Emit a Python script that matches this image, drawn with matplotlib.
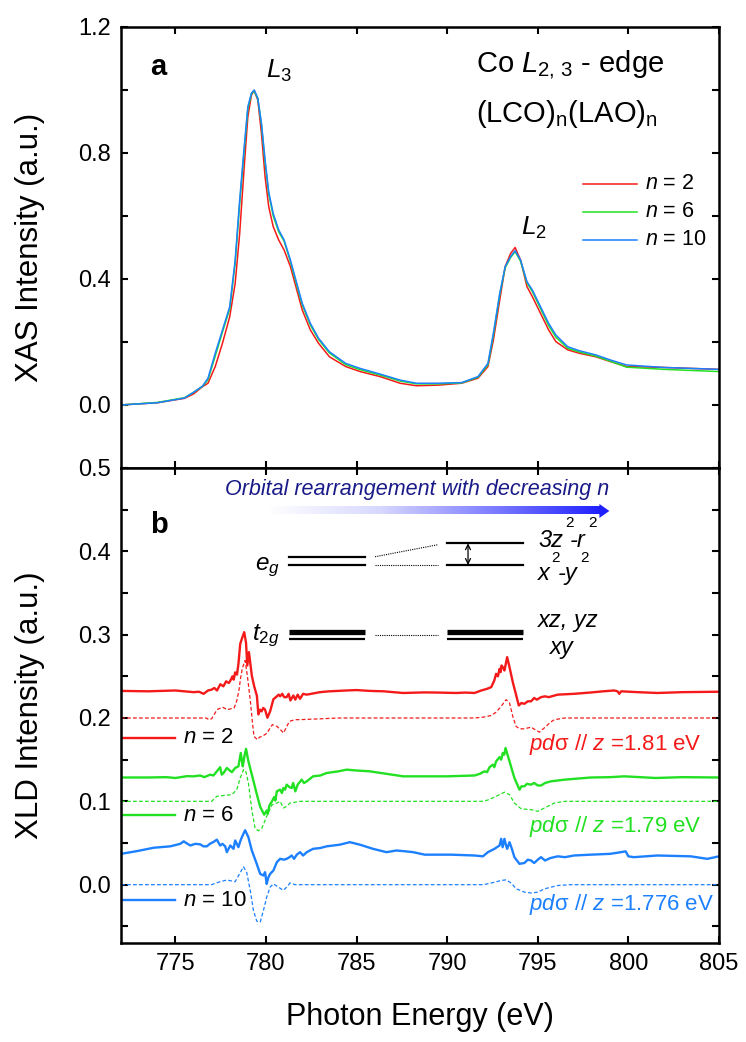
import matplotlib
matplotlib.use("Agg")
import matplotlib.pyplot as plt
import numpy as np
from matplotlib.patches import Polygon
from matplotlib.colors import LinearSegmentedColormap
from matplotlib.ticker import MultipleLocator, FormatStrFormatter

plt.rcParams["font.family"] = ["Liberation Sans", "DejaVu Sans"]
plt.rcParams["mathtext.fontset"] = "custom"
plt.rcParams["mathtext.rm"] = "Liberation Sans"
plt.rcParams["mathtext.it"] = "Liberation Sans:italic"
plt.rcParams["mathtext.bf"] = "Liberation Sans:bold"

# ---------------- data ----------------
# Co L2,3-edge XAS, common energy grid (eV)
xas_energy = [772.0, 774.0, 775.5, 776.0, 776.5, 776.8, 777.2, 777.6, 778.0, 778.3,
              778.55, 778.8, 779.0, 779.2, 779.35, 779.55, 779.75, 779.95, 780.15, 780.4,
              780.7, 781.0, 781.35, 781.7, 782.0, 782.45, 782.9, 783.5, 784.4, 785.2,
              786.3, 787.4, 788.3, 789.5, 790.8, 791.7, 792.25, 792.55, 792.9, 793.2,
              793.5, 793.75, 794.05, 794.4, 794.7, 795.15, 795.6, 796.0, 796.65, 797.3,
              798.2, 799.0, 799.9, 802.0, 805.0]
xas_n2 = [0.0, 0.007, 0.021, 0.035, 0.058, 0.069, 0.122, 0.196, 0.28, 0.386,
          0.545, 0.757, 0.915, 0.984, 0.998, 0.968, 0.862, 0.725, 0.63, 0.566,
          0.524, 0.492, 0.439, 0.365, 0.302, 0.238, 0.196, 0.153, 0.122, 0.106,
          0.09, 0.069, 0.061, 0.063, 0.069, 0.085, 0.122, 0.206, 0.333, 0.439,
          0.481, 0.5, 0.46, 0.376, 0.344, 0.291, 0.238, 0.201, 0.175, 0.164,
          0.153, 0.138, 0.122, 0.119, 0.113]
xas_n6 = [0.0, 0.008, 0.023, 0.04, 0.059, 0.08, 0.155, 0.232, 0.305, 0.45,
          0.64, 0.81, 0.94, 0.988, 0.997, 0.972, 0.89, 0.77, 0.67, 0.6,
          0.55, 0.52, 0.455, 0.38, 0.318, 0.254, 0.208, 0.165, 0.128, 0.112,
          0.095, 0.076, 0.067, 0.067, 0.07, 0.088, 0.128, 0.222, 0.35, 0.436,
          0.468, 0.487, 0.456, 0.388, 0.36, 0.306, 0.252, 0.215, 0.18, 0.168,
          0.155, 0.139, 0.12, 0.113, 0.106]
xas_n10 = [0.0, 0.007, 0.022, 0.04, 0.06, 0.085, 0.164, 0.238, 0.312, 0.46,
           0.651, 0.82, 0.947, 0.99, 1.0, 0.974, 0.894, 0.778, 0.677, 0.608,
           0.556, 0.524, 0.46, 0.386, 0.323, 0.259, 0.212, 0.169, 0.132, 0.116,
           0.098, 0.079, 0.069, 0.069, 0.071, 0.09, 0.132, 0.228, 0.354, 0.439,
           0.471, 0.49, 0.46, 0.392, 0.365, 0.312, 0.259, 0.222, 0.185, 0.172,
           0.159, 0.143, 0.127, 0.119, 0.113]

# measured XLD, (energy, intensity) pairs
xld_n2 = [(772.0, 0.0325), (773.5, 0.032), (775.0, 0.033), (776.0, 0.031), (776.3, 0.0315),
          (776.56, 0.029), (776.8, 0.033), (777.0, 0.034), (777.15, 0.036), (777.3, 0.033),
          (777.48, 0.0405), (777.65, 0.038), (777.8, 0.044), (777.95, 0.042), (778.03, 0.0446),
          (778.15, 0.05), (778.22, 0.046), (778.3, 0.0547), (778.4, 0.052), (778.48, 0.0648),
          (778.58, 0.089), (778.7, 0.097), (778.8, 0.103), (778.9, 0.090), (778.97, 0.063),
          (779.06, 0.079), (779.22, 0.0507), (779.35, 0.038), (779.5, 0.0265), (779.58, 0.0043),
          (779.68, 0.01), (779.76, 0.008), (779.85, 0.012), (779.95, 0.010), (780.08, 0.0003),
          (780.23, 0.008), (780.41, 0.0225), (780.55, 0.025), (780.7, 0.028), (780.78, 0.026),
          (780.9, 0.029), (781.0, 0.025), (781.14, 0.025), (781.25, 0.029), (781.35, 0.021),
          (781.51, 0.027), (781.62, 0.022), (781.75, 0.028), (781.88, 0.023), (782.05, 0.029),
          (782.24, 0.028), (782.5, 0.029), (782.98, 0.031), (783.5, 0.032), (784.44, 0.033),
          (785.0, 0.0335), (785.73, 0.0325), (786.5, 0.032), (787.56, 0.030), (788.75, 0.0307),
          (789.5, 0.0305), (790.5, 0.030), (791.0, 0.0305), (791.51, 0.030), (791.88, 0.033),
          (792.2, 0.035), (792.43, 0.037), (792.6, 0.045), (792.7, 0.053), (792.8, 0.050),
          (792.89, 0.059), (792.95, 0.055), (793.0, 0.063), (793.1, 0.060), (793.16, 0.057),
          (793.31, 0.073), (793.44, 0.061), (793.62, 0.043), (793.8, 0.028), (793.95, 0.015),
          (794.1, 0.018), (794.26, 0.017), (794.45, 0.020), (794.63, 0.020), (794.8, 0.024),
          (794.95, 0.022), (795.18, 0.025), (795.4, 0.026), (795.6, 0.025), (796.1, 0.028),
          (797.0, 0.029), (797.93, 0.0306), (798.6, 0.032), (799.22, 0.033), (799.4, 0.032),
          (799.5, 0.029), (799.6, 0.032), (800.5, 0.031), (801.6, 0.030), (803.0, 0.031),
          (805.0, 0.0315)]
xld_n6 = [(772.0, 0.0286), (773.5, 0.0286), (774.5, 0.029), (775.0, 0.028), (775.64, 0.0302),
          (776.0, 0.030), (776.37, 0.031), (776.6, 0.029), (776.92, 0.032), (777.1, 0.031),
          (777.29, 0.036), (777.47, 0.041), (777.56, 0.032), (777.66, 0.034), (777.84, 0.040),
          (778.0, 0.037), (778.12, 0.035), (778.3, 0.040), (778.48, 0.042), (778.61, 0.058),
          (778.68, 0.048), (778.72, 0.042), (778.82, 0.055), (778.9, 0.063), (779.03, 0.048),
          (779.22, 0.032), (779.5, 0.008), (779.68, -0.0065), (779.9, -0.016), (780.04, -0.011),
          (780.1, -0.015), (780.19, -0.005), (780.32, -0.0005), (780.45, 0.005), (780.52, 0.001),
          (780.6, 0.012), (780.78, 0.014), (780.88, 0.010), (780.96, 0.016), (781.05, 0.014),
          (781.14, 0.020), (781.3, 0.017), (781.42, 0.016), (781.5, 0.022), (781.62, 0.012),
          (781.75, 0.020), (781.97, 0.026), (782.1, 0.022), (782.25, 0.024), (782.6, 0.030),
          (783.0, 0.031), (783.35, 0.034), (784.0, 0.036), (784.45, 0.038), (785.0, 0.037),
          (785.73, 0.036), (786.65, 0.033), (787.57, 0.030), (788.76, 0.030), (790.0, 0.030),
          (791.51, 0.031), (791.8, 0.033), (792.06, 0.036), (792.2, 0.035), (792.34, 0.041),
          (792.52, 0.044), (792.6, 0.041), (792.7, 0.048), (792.89, 0.053), (792.98, 0.050),
          (793.07, 0.058), (793.15, 0.056), (793.22, 0.064), (793.44, 0.048), (793.71, 0.028),
          (793.99, 0.014), (794.1, 0.018), (794.26, 0.018), (794.4, 0.021), (794.63, 0.020),
          (794.8, 0.022), (795.0, 0.019), (795.18, 0.019), (795.4, 0.022), (795.73, 0.024),
          (796.47, 0.026), (797.93, 0.0286), (799.0, 0.029), (799.77, 0.030), (801.5, 0.028),
          (803.0, 0.029), (805.0, 0.0286)]
xld_n10 = [(772.0, 0.037), (772.89, 0.0403), (773.8, 0.0443), (774.72, 0.046), (775.27, 0.049),
           (775.46, 0.052), (775.6, 0.050), (775.82, 0.047), (776.1, 0.049), (776.37, 0.0484),
           (776.55, 0.046), (776.74, 0.046), (776.9, 0.049), (777.1, 0.0512), (777.29, 0.054),
           (777.47, 0.047), (777.6, 0.049), (777.75, 0.046), (777.84, 0.039), (778.03, 0.047),
           (778.21, 0.043), (778.3, 0.053), (778.48, 0.045), (778.58, 0.052), (778.67, 0.057),
           (778.85, 0.0653), (779.03, 0.057), (779.22, 0.041), (779.49, 0.025), (779.68, 0.013),
           (779.86, 0.011), (779.95, 0.015), (780.04, 0.0009), (780.12, 0.008), (780.23, 0.013),
           (780.41, 0.017), (780.6, 0.027), (780.78, 0.031), (781.0, 0.030), (781.14, 0.031),
           (781.3, 0.033), (781.42, 0.035), (781.55, 0.031), (781.7, 0.036), (781.88, 0.039),
           (782.05, 0.035), (782.25, 0.039), (782.6, 0.043), (783.0, 0.044), (783.35, 0.046),
           (784.08, 0.048), (784.63, 0.051), (785.18, 0.048), (785.91, 0.043), (786.65, 0.039),
           (787.2, 0.041), (787.7, 0.040), (788.12, 0.039), (788.76, 0.036), (790.23, 0.036),
           (791.51, 0.035), (791.97, 0.034), (792.25, 0.039), (792.61, 0.043), (792.89, 0.047),
           (792.98, 0.055), (793.06, 0.045), (793.16, 0.055), (793.25, 0.047), (793.31, 0.043),
           (793.44, 0.051), (793.57, 0.043), (793.71, 0.033), (793.99, 0.025), (794.26, 0.026),
           (794.45, 0.030), (794.63, 0.029), (794.8, 0.026), (795.0, 0.030), (795.18, 0.033),
           (795.4, 0.029), (795.7, 0.032), (796.1, 0.034), (796.5, 0.033), (797.0, 0.035),
           (797.93, 0.036), (799.0, 0.037), (799.59, 0.039), (799.85, 0.040), (800.0, 0.034),
           (800.3, 0.033), (801.6, 0.035), (803.44, 0.034), (804.36, 0.031), (805.0, 0.034)]

# calculated XLD for pd-sigma // z
calc_n2 = [(772.0, 0.0), (776.7, 0.0), (776.85, -0.002), (777.0, -0.001), (777.3, 0.010),
           (777.6, 0.013), (777.87, 0.010), (778.05, 0.011), (778.24, 0.012), (778.38, 0.020),
           (778.5, 0.032), (778.6, 0.048), (778.7, 0.060), (778.85, 0.069), (778.97, 0.051),
           (779.06, 0.035), (779.16, 0.016), (779.25, -0.005), (779.34, -0.022), (779.52, -0.026),
           (779.65, -0.023), (779.8, -0.022), (780.07, -0.018), (780.2, -0.013), (780.35, -0.008),
           (780.6, -0.010), (780.8, -0.014), (780.97, -0.018), (781.15, -0.010), (781.3, -0.004),
           (781.6, -0.002), (781.88, -0.002), (782.98, -0.001), (784.0, 0.0), (791.5, 0.0),
           (792.0, 0.001), (792.43, 0.003), (792.7, 0.007), (792.98, 0.014), (793.25, 0.022),
           (793.44, 0.018), (793.62, 0.002), (793.8, -0.010), (794.0, -0.013), (794.26, -0.013),
           (794.63, -0.011), (794.85, -0.014), (795.09, -0.017), (795.25, -0.014), (795.46, -0.010),
           (795.7, -0.005), (795.92, -0.002), (796.5, 0.0), (805.0, 0.0)]
calc_n6 = [(772.0, 0.0), (777.0, 0.0), (777.29, 0.006), (777.66, 0.007), (778.12, 0.008),
           (778.39, 0.014), (778.58, 0.028), (778.76, 0.038), (778.88, 0.037), (779.03, 0.022),
           (779.22, -0.0103), (779.4, -0.0325), (779.58, -0.0353), (779.77, -0.0325), (780.04, -0.018),
           (780.32, -0.0045), (780.6, -0.002), (780.78, 0.0), (780.96, -0.008), (781.14, -0.006),
           (781.33, -0.002), (781.9, 0.0), (792.0, 0.0), (792.3, 0.002), (792.7, 0.006),
           (793.16, 0.011), (793.44, 0.008), (793.71, -0.002), (794.08, -0.009), (794.63, -0.010),
           (795.0, -0.012), (795.37, -0.008), (795.92, -0.002), (796.5, 0.0), (805.0, 0.0)]
calc_n10 = [(772.0, 0.0), (777.0, 0.0), (777.47, 0.0036), (777.84, 0.0056), (778.3, 0.0036),
            (778.58, 0.0145), (778.76, 0.0215), (778.94, 0.0145), (779.13, -0.0068), (779.31, -0.031),
            (779.49, -0.0437), (779.68, -0.045), (779.86, -0.031), (780.04, -0.015), (780.23, -0.0028),
            (780.41, 0.001), (780.69, -0.003), (780.96, -0.0068), (781.14, -0.003), (781.33, 0.002),
            (781.6, 0.0), (792.0, 0.0), (792.43, 0.002), (792.98, 0.005), (793.25, 0.0058),
            (793.53, 0.002), (793.8, -0.0048), (794.26, -0.0089), (794.63, -0.010), (795.0, -0.009),
            (795.37, -0.005), (796.1, -0.001), (796.8, 0.0), (805.0, 0.0)]

layers = ["2", "6", "10"]
pd_sigma_ev = ["1.81", "1.79", "1.776"]
stack_offsets = [0.2, 0.1, 0.0]
colors = ["#f41a1a", "#22e022", "#1c80ff"]

# ---------------- figure ----------------
fig = plt.figure(figsize=(7.46, 10.42), dpi=100)
ax_top = fig.add_axes([0.1622, 0.5509, 0.8016, 0.4232])
ax_bot = fig.add_axes([0.1622, 0.095, 0.8016, 0.4559], sharex=ax_top)

for ax in (ax_top, ax_bot):
    for sp in ax.spines.values():
        sp.set_linewidth(1.8)
    ax.tick_params(which="both", direction="in", length=5, width=1.5,
                   top=True, right=True, labelsize=17, pad=7)
    ax.xaxis.set_major_locator(MultipleLocator(5))

# --- panel a: XAS ---
for vals, c in zip([xas_n2, xas_n6, xas_n10], colors):
    ax_top.plot(xas_energy, vals, color=c, lw=1.1)
ax_top.set_xlim(772, 805)
ax_top.set_ylim(-0.2, 1.2)
ax_top.yaxis.set_major_locator(MultipleLocator(0.4))
ax_top.yaxis.set_minor_locator(MultipleLocator(0.2))
ax_top.yaxis.set_major_formatter(FormatStrFormatter("%.1f"))
ax_top.tick_params(axis="x", labelbottom=False)
ax_top.set_ylabel("XAS Intensity (a.u.)", fontsize=22.5)
ax_top.yaxis.set_label_coords(-0.127, 0.5)

ax_top.text(773.6, 1.048, "a", fontsize=21, fontweight="bold", va="baseline", ha="left")
ax_top.text(780.0, 1.038, r"$L_3$", fontsize=19, va="baseline", ha="left")
ax_top.text(794.1, 0.54, r"$L_2$", fontsize=19, va="baseline", ha="left")
ax_top.text(791.6, 1.057, r"Co $L_{2,\,3}$ - edge", fontsize=21, va="baseline", ha="left")
ax_top.text(791.6, 0.898, r"(LCO)$_\mathrm{n}$(LAO)$_\mathrm{n}$", fontsize=21,
            va="baseline", ha="left")
for i, (lab, c) in enumerate(zip(layers, colors)):
    yy = 0.703 - 0.089 * i
    ax_top.plot([797.5, 800.45], [yy, yy], color=c, lw=1.1)
    ax_top.text(800.9, yy, r"$n$ = " + lab, fontsize=15.5, va="center", ha="left")

# --- panel b: XLD ---
for meas, calc, off, c in zip([xld_n2, xld_n6, xld_n10], [calc_n2, calc_n6, calc_n10],
                              stack_offsets, colors):
    e, v = zip(*meas)
    ax_bot.plot(e, np.array(v) + off, color=c, lw=1.7)
    e, v = zip(*calc)
    ax_bot.plot(e, np.array(v) + off, color=c, lw=0.9, ls=(0, (3, 1.8)))

ax_bot.set_ylim(-0.07, 0.5)
ax_bot.yaxis.set_major_locator(MultipleLocator(0.1))
ax_bot.yaxis.set_minor_locator(MultipleLocator(0.05))
ax_bot.yaxis.set_major_formatter(FormatStrFormatter("%.1f"))
ax_bot.set_ylabel("XLD Intensity (a.u.)", fontsize=22.5)
ax_bot.yaxis.set_label_coords(-0.127, 0.5)
ax_bot.set_xlabel("Photon Energy (eV)", fontsize=22)
ax_bot.xaxis.set_label_coords(0.5, -0.124)

ax_bot.text(773.6, 0.422, "b", fontsize=21, fontweight="bold", va="baseline", ha="left")

# legend entries and pd-sigma labels
for i, (lab, ev, c) in enumerate(zip(layers, pd_sigma_ev, colors)):
    yy = [0.1762, 0.0834, -0.0186][i]
    ax_bot.plot([772.0, 774.98], [yy, yy], color=c, lw=1.7)
    ax_bot.text(775.42, yy, r"$n$ = " + lab, fontsize=16, va="center", ha="left")
    ty = [0.1687, 0.0702, -0.0234][i]
    ax_bot.text(794.5, ty, r"$pd$σ $//$ $z$ =" + ev + " eV", fontsize=16,
                color=c, va="center", ha="left")

# orbital rearrangement arrow with colour gradient
ax_bot.text(788.35, 0.4736, "Orbital rearrangement with decreasing n", fontsize=15.5,
            style="italic", color="#1a1a88", ha="center", va="center")
grad_cmap = LinearSegmentedColormap.from_list(
    "fade", ["#ffffff", "#d8d8ff", "#8080ff", "#2020ff"])
ax_bot.imshow(np.linspace(0, 1, 256)[None, :], cmap=grad_cmap, aspect="auto",
              extent=(780.1, 798.45, 0.4442, 0.4526), zorder=2)
ax_bot.add_patch(Polygon([(798.4, 0.4568), (798.95, 0.4484), (798.4, 0.4400)],
                         closed=True, color="#2020ff", lw=0, zorder=2))

# energy-level scheme
lvl_left = (781.27, 785.47)
lvl_mid = (786.02, 789.49)
lvl_right = (789.99, 794.19)
eg_up, eg_low, eg_split = 0.3935, 0.3836, 0.4096
t2g_thick, t2g_thin, t2g_mid = 0.3035, 0.2944, 0.2995
ax_bot.plot(lvl_left, [eg_up, eg_up], color="k", lw=1.6)
ax_bot.plot(lvl_left, [eg_low, eg_low], color="k", lw=1.6)
ax_bot.plot(lvl_right, [eg_split, eg_split], color="k", lw=1.6)
ax_bot.plot(lvl_right, [eg_low, eg_low], color="k", lw=1.6)
ax_bot.plot(lvl_mid, [eg_up, 0.4079], color="k", lw=0.8, ls=(0, (1, 1)))
ax_bot.plot(lvl_mid, [eg_low, eg_low], color="k", lw=0.8, ls=(0, (1, 1)))
for xs in (lvl_left, lvl_right):
    ax_bot.plot(xs, [t2g_thick, t2g_thick], color="k", lw=3.8, solid_capstyle="butt")
    ax_bot.plot(xs, [t2g_thin, t2g_thin], color="k", lw=1.6, solid_capstyle="butt")
ax_bot.plot(lvl_mid, [t2g_mid, t2g_mid], color="k", lw=0.8, ls=(0, (1, 1)))
ax_bot.annotate("", xy=(791.15, eg_split), xytext=(791.15, eg_low),
                arrowprops=dict(arrowstyle="<->", color="k", lw=0.9,
                                shrinkA=0, shrinkB=0, mutation_scale=9))

ax_bot.text(780.75, 0.3776, r"$e_g$", fontsize=17.5, ha="right", va="baseline")
ax_bot.text(779.23, 0.2935, r"$t_{2g}$", fontsize=17.5, ha="left", va="baseline")
ax_bot.text(795.01, 0.405, "3z", fontsize=17, style="italic", va="baseline")
ax_bot.text(796.5, 0.429, "2", fontsize=11, va="baseline")
ax_bot.text(796.78, 0.405, "-r", fontsize=17, style="italic", va="baseline")
ax_bot.text(797.77, 0.429, "2", fontsize=11, va="baseline")
ax_bot.text(795.01, 0.3656, "x", fontsize=17, style="italic", va="baseline")
ax_bot.text(795.77, 0.387, "2", fontsize=11, va="baseline")
ax_bot.text(796.12, 0.3656, "-y", fontsize=17, style="italic", va="baseline")
ax_bot.text(797.33, 0.387, "2", fontsize=11, va="baseline")
ax_bot.text(795.01, 0.3095, "xz, yz", fontsize=17, style="italic", va="baseline")
ax_bot.text(795.68, 0.2767, "xy", fontsize=17, style="italic", va="baseline")

ax_bot.set_xlim(772, 805)
ax_bot.set_ylim(-0.07, 0.5)

fig.savefig("out.png", dpi=100)
